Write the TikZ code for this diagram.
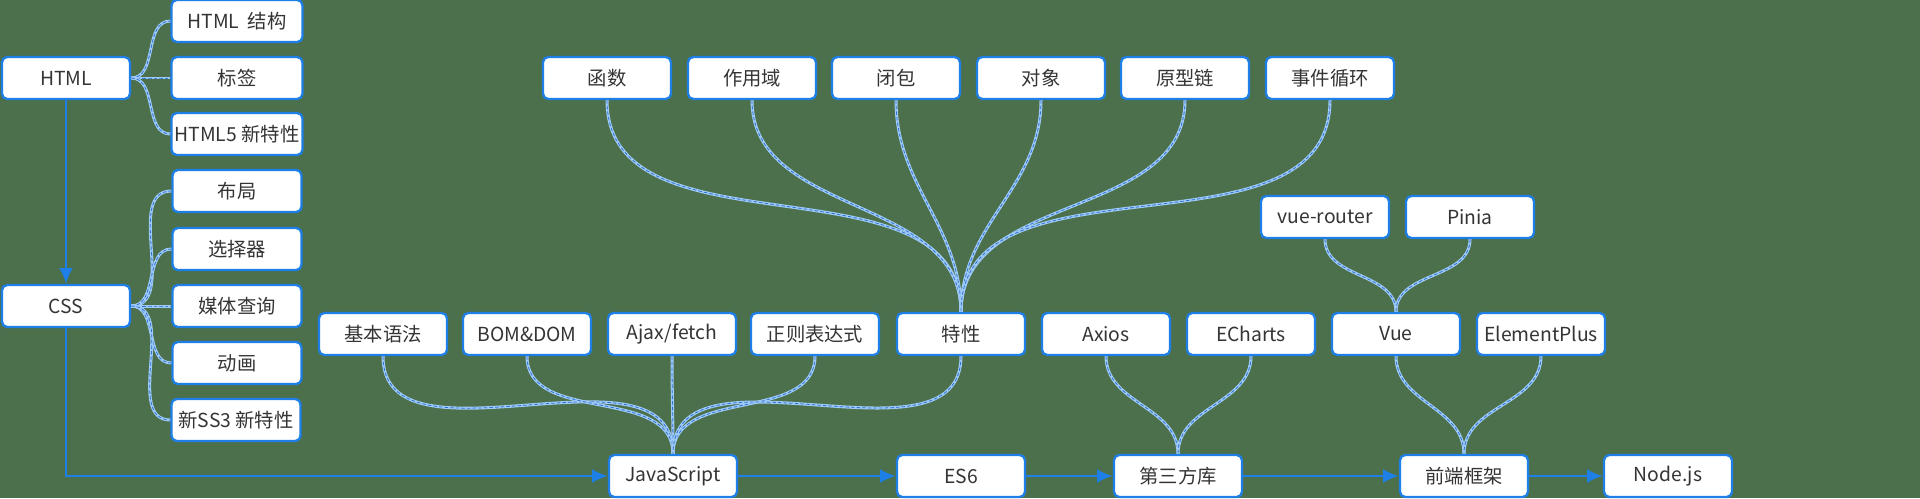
\documentclass[tikz,border=0pt]{standalone}
\usepackage{fontspec}
\setmainfont{Noto Sans CJK SC}
\usepackage{xcolor}
\usepackage{tikz}
\usetikzlibrary{arrows.meta, positioning}

\definecolor{bgGreen}{RGB}{75,112,75}
\definecolor{boxBlue}{RGB}{30,127,230}
\definecolor{linkBlue}{RGB}{160,202,246}
\definecolor{dashBlue}{RGB}{45,115,210}
\definecolor{textGray}{RGB}{52,52,52}

\begin{document}
\begin{tikzpicture}[x=0.02cm, y=-0.02cm]
    \tikzstyle{box} = [rectangle, draw=boxBlue, line width=1.3pt, rounded corners=3pt, fill=white, text=textGray, minimum width=2.56cm, minimum height=0.84cm, inner sep=0pt, font=\fontsize{11}{13}\selectfont]
    \tikzstyle{line} = [draw=boxBlue, -{Latex[length=9pt, width=8pt]}, line width=1.5pt]
    \tikzstyle{branch} = [draw=linkBlue, line width=1.7pt, postaction={draw=dashBlue, line width=0.45pt, dash pattern=on 2pt off 1.2pt}]

    \useasboundingbox (0,0) rectangle (1920,498);
    \fill[bgGreen] (0,0) rectangle (1920,498);

    % left column
    \node [box] (html) at (66,78) {HTML};
    \node [box] (css) at (66,306) {CSS};
    \node [box, minimum width=2.62cm] (htmlA) at (237,21) {HTML\ \ 结构};
    \node [box, minimum width=2.62cm] (htmlB) at (237,78) {标签};
    \node [box, minimum width=2.62cm] (htmlC) at (237,134) {HTML5 新特性};
    \node [box, minimum width=2.58cm] (cssA) at (237,191) {布局};
    \node [box, minimum width=2.58cm] (cssB) at (237,249) {选择器};
    \node [box, minimum width=2.58cm] (cssC) at (237,306) {媒体查询};
    \node [box, minimum width=2.58cm] (cssD) at (237,363) {动画};
    \node [box, minimum width=2.58cm] (cssE) at (236,420) {新SS3 新特性};

    % main line
    \node [box] (js) at (673,476) {JavaScript};
    \node [box] (es6) at (961,476) {ES6};
    \node [box] (lib) at (1178,476) {第三方库};
    \node [box] (fw) at (1464,476) {前端框架};
    \node [box] (node) at (1668,476) {Node.js};

    % middle row
    \node [box] (basic) at (383,334) {基本语法};
    \node [box] (bom) at (527,334) {BOM\&DOM};
    \node [box] (ajax) at (672,334) {Ajax/fetch};
    \node [box] (regex) at (815,334) {正则表达式};
    \node [box] (feat) at (961,334) {特性};
    \node [box] (axios) at (1106,334) {Axios};
    \node [box] (echarts) at (1251,334) {ECharts};
    \node [box] (vue) at (1396,334) {Vue};
    \node [box] (eplus) at (1541,334) {ElementPlus};

    % top rows
    \node [box] (func) at (607,78) {函数};
    \node [box] (scope) at (752,78) {作用域};
    \node [box] (closure) at (896,78) {闭包};
    \node [box] (obj) at (1041,78) {对象};
    \node [box] (proto) at (1185,78) {原型链};
    \node [box] (evloop) at (1330,78) {事件循环};
    \node [box] (router) at (1325,217) {vue-router};
    \node [box] (pinia) at (1470,217) {Pinia};

    % branches
    \path [branch] (html.east) to[out=0, in=180] (htmlA.west);
    \path [branch] (html.east) to[out=0, in=180] (htmlB.west);
    \path [branch] (html.east) to[out=0, in=180] (htmlC.west);
    \path [branch] (css.east) to[out=0, in=180] (cssA.west);
    \path [branch] (css.east) to[out=0, in=180] (cssB.west);
    \path [branch] (css.east) to[out=0, in=180] (cssC.west);
    \path [branch] (css.east) to[out=0, in=180] (cssD.west);
    \path [branch] (css.east) to[out=0, in=180] (cssE.west);

    \path [branch] (func.south) to[out=-90, in=90] (feat.north);
    \path [branch] (scope.south) to[out=-90, in=90] (feat.north);
    \path [branch] (closure.south) to[out=-90, in=90] (feat.north);
    \path [branch] (obj.south) to[out=-90, in=90] (feat.north);
    \path [branch] (proto.south) to[out=-90, in=90] (feat.north);
    \path [branch] (evloop.south) to[out=-90, in=90] (feat.north);

    \path [branch] (basic.south) to[out=-90, in=90] (js.north);
    \path [branch] (bom.south) to[out=-90, in=90] (js.north);
    \path [branch] (ajax.south) to[out=-90, in=90] (js.north);
    \path [branch] (regex.south) to[out=-90, in=90] (js.north);
    \path [branch] (feat.south) to[out=-90, in=90] (js.north);

    \path [branch] (axios.south) to[out=-90, in=90] (lib.north);
    \path [branch] (echarts.south) to[out=-90, in=90] (lib.north);
    \path [branch] (router.south) to[out=-90, in=90] (vue.north);
    \path [branch] (pinia.south) to[out=-90, in=90] (vue.north);
    \path [branch] (vue.south) to[out=-90, in=90] (fw.north);
    \path [branch] (eplus.south) to[out=-90, in=90] (fw.north);

    % flow
    \path [line] (html) -- (css);
    \path [line] (css.south) |- (js.west);
    \path [line] (js) -- (es6);
    \path [line] (es6) -- (lib);
    \path [line] (lib) -- (fw);
    \path [line] (fw) -- (node);
\end{tikzpicture}
\end{document}
